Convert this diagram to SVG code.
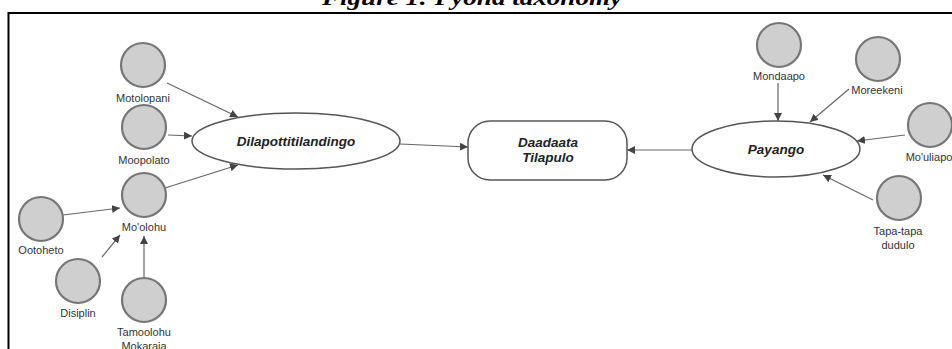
<svg xmlns="http://www.w3.org/2000/svg" width="952" height="349" viewBox="0 0 952 349">
<style>
.c{fill:#cfcfcf;stroke:#767676;stroke-width:2.2}
.l{font-family:"Liberation Sans",Arial,sans-serif;font-size:11px;fill:#333;text-anchor:middle}
.m{font-family:"Liberation Sans",Arial,sans-serif;font-size:13.5px;font-weight:bold;font-style:italic;fill:#222;text-anchor:middle}
.e{fill:#fff;stroke:#555;stroke-width:1.5}
.a{stroke:#666;stroke-width:1.2;fill:none;marker-end:url(#ah)}
</style>
<defs>
<marker id="ah" viewBox="0 0 10 10" refX="10" refY="5" markerWidth="8" markerHeight="8" markerUnits="userSpaceOnUse" orient="auto">
<path d="M0,0 L10,5 L0,10 z" fill="#444"/>
</marker>
</defs>
<rect width="952" height="349" fill="#fff"/>
<text x="472" y="5" font-family="'Liberation Serif','Times New Roman',serif" font-size="22" font-weight="bold" font-style="italic" text-anchor="middle" textLength="300" lengthAdjust="spacingAndGlyphs" fill="#000">Figure 1: Pyona taxonomy</text>
<path d="M8.5,360 V13 H960" fill="none" stroke="#000" stroke-width="2"/>
<g id="connectors">
<line class="a" x1="167" y1="83" x2="238" y2="117"/>
<line class="a" x1="168" y1="135" x2="192" y2="136"/>
<line class="a" x1="165" y1="188" x2="238" y2="165"/>
<line class="a" x1="63" y1="215" x2="120" y2="208"/>
<line class="a" x1="102" y1="257" x2="120" y2="235"/>
<line class="a" x1="144" y1="278" x2="144" y2="236"/>
<line class="a" x1="400" y1="144" x2="468" y2="147"/>
<line class="a" x1="692" y1="150" x2="627" y2="150"/>
<line class="a" x1="778" y1="83" x2="778" y2="121"/>
<line class="a" x1="849" y1="89" x2="810" y2="122"/>
<line class="a" x1="905" y1="135" x2="857" y2="141"/>
<line class="a" x1="873" y1="200" x2="823" y2="175"/>
</g>
<g id="motolopani"><circle class="c" cx="143" cy="65" r="22"/><text class="l" x="143" y="102">Motolopani</text></g>
<g id="moopolato"><circle class="c" cx="144" cy="127" r="22"/><text class="l" x="144" y="164">Moopolato</text></g>
<g id="moolohu"><circle class="c" cx="144" cy="195" r="22"/><text class="l" x="144" y="231">Mo'olohu</text></g>
<g id="ootoheto"><circle class="c" cx="41" cy="219" r="22"/><text class="l" x="41" y="254">Ootoheto</text></g>
<g id="disiplin"><circle class="c" cx="78" cy="281" r="22"/><text class="l" x="78" y="317">Disiplin</text></g>
<g id="tamoolohu"><circle class="c" cx="144" cy="300" r="22"/><text class="l" x="144" y="336">Tamoolohu</text><text class="l" x="144" y="350">Mokaraia</text></g>
<g id="dilapottitilandingo"><ellipse class="e" cx="296" cy="141" rx="104" ry="28"/><text class="m" x="296" y="146">Dilapottitilandingo</text></g>
<g id="daadaata"><rect class="e" x="468" y="121" width="159" height="59" rx="22" ry="22"/><text class="m" x="548" y="147">Daadaata</text><text class="m" x="548" y="162">Tilapulo</text></g>
<g id="payango"><ellipse class="e" cx="776" cy="149" rx="84" ry="28"/><text class="m" x="776" y="154">Payango</text></g>
<g id="mondaapo"><circle class="c" cx="779" cy="45" r="22"/><text class="l" x="779" y="80">Mondaapo</text></g>
<g id="moreekeni"><circle class="c" cx="878" cy="59" r="22"/><text class="l" x="877" y="94">Moreekeni</text></g>
<g id="mouliapo"><circle class="c" cx="930" cy="125" r="22"/><text class="l" x="929" y="161">Mo'uliapo</text></g>
<g id="tapatapa"><circle class="c" cx="899" cy="198" r="22"/><text class="l" x="898" y="235">Tapa-tapa</text><text class="l" x="898" y="249">dudulo</text></g>
</svg>
